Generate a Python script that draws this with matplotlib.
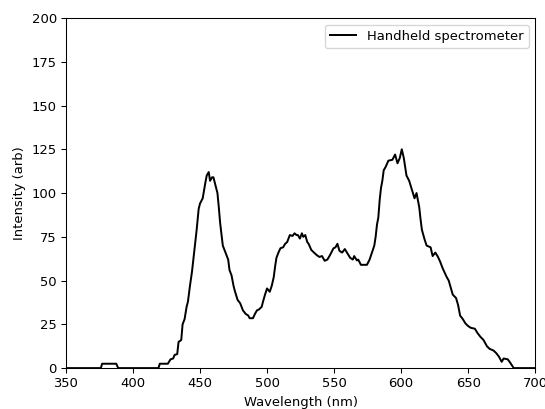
import matplotlib
matplotlib.use("Agg")
import matplotlib.pyplot as plt

wavelength = [350, 376, 377, 387.5, 389, 419, 420, 426, 428, 430, 431, 433, 434, 436, 437, 438.5,
              440, 441, 442.5, 444, 445, 447.5, 449, 450, 452, 454, 455, 456.5, 457.5, 459, 460,
              461, 463, 464, 465, 467, 468.5, 470, 471, 472, 473.5, 475, 476, 478, 480, 482, 484,
              486, 487, 489.5, 491, 492.5, 494, 496, 497, 498.5, 500, 502, 503.5, 505, 506, 507,
              508.5, 510, 512, 513.5, 515, 516, 517, 519, 520.5, 522, 523, 524.5, 526, 527, 528.5,
              530, 531, 533, 535, 537, 539, 541, 543, 545, 547, 549.5, 551, 552.5, 554, 556, 558,
              560, 562, 564, 565, 567, 568, 570, 574.5, 576.5, 578, 580, 581, 582, 583, 584, 585,
              586, 587, 588.5, 590.5, 593.5, 595.5, 597.3, 599, 600.5, 602, 604, 606, 608, 610,
              611.5, 613.5, 614.5, 615.5, 617.5, 619, 622, 623.5, 625.5, 627.5, 629, 631, 632.8,
              634, 635.5, 637, 638.5, 641, 642.5, 644, 646, 648, 650, 652, 655, 657, 659, 661.5,
              664, 666, 669, 671, 673, 675, 676.5, 679.5, 681, 682.5, 684, 700]
intensity = [0, 0, 2.5, 2.5, 0, 0, 2.5, 2.5, 5, 5.5, 7.5, 8, 15, 16, 25, 28,
             35, 38, 47, 55, 62, 79, 91, 94, 97, 106, 110, 112, 107, 109, 109,
             106, 100, 92, 83, 70, 67, 64, 62, 56, 53, 47, 44, 39, 37, 33, 31,
             30, 28.5, 28.5, 31, 33, 33.5, 35, 38, 42, 45.5, 43.6, 47, 52, 58, 63,
             66, 68.5, 69, 71, 72, 74, 76, 75.5, 77, 76, 76, 74, 77, 75, 76,
             72, 71, 67.5, 66, 64.6, 63.5, 64, 61.3, 62, 64.6, 68.4, 69, 71, 67, 66, 68,
             65.5, 63, 62, 64, 61.5, 62, 59, 59, 62, 65.5, 70, 75, 82, 86, 96, 103,
             107, 113, 115, 118.5, 119, 122, 117, 120, 125, 120, 110, 107, 102, 97,
             100, 92, 85, 79, 73.5, 70, 69, 64, 66, 63.5, 61, 57, 54,
             52, 50, 46, 42, 40, 36, 30, 28, 25.5, 24, 23, 22.5, 20, 18, 16,
             12.5, 11, 10, 8.5, 6.5, 3.6, 5.5, 5, 3.5, 1.7, 0, 0]

DPI = 94.5
fig = plt.figure(figsize=(545 / DPI, 409 / DPI), dpi=DPI)
ax = fig.add_axes([0.121, 0.100, 0.861, 0.856])
ax.plot(wavelength, intensity, color="black", linewidth=1.5, label="Handheld spectrometer")
ax.set_xlim(350, 700)
ax.set_ylim(0, 200)
ax.set_xticks([350, 400, 450, 500, 550, 600, 650, 700])
ax.set_yticks([0, 25, 50, 75, 100, 125, 150, 175, 200])
ax.set_xlabel("Wavelength (nm)")
ax.set_ylabel("Intensity (arb)")
ax.legend(loc="upper right")
fig.savefig("out.png", dpi=DPI)
